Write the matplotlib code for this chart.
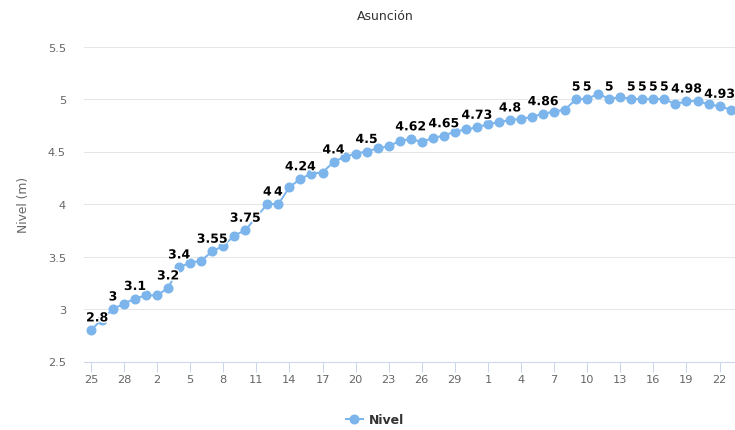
import pandas as pd
import matplotlib.pyplot as plt
import matplotlib.patheffects as pe
from matplotlib.lines import Line2D

# Nivel diario del río en Asunción (25 feb - 23 abr), falta el 11 de marzo
fechas = pd.date_range("2024-02-25", "2024-04-23").drop(pd.Timestamp("2024-03-11"))
nivel = [2.8, 2.9, 3.0, 3.05, 3.1, 3.13, 3.13, 3.2, 3.4, 3.44,
         3.46, 3.55, 3.6, 3.7, 3.75, 4.0, 4.0, 4.16, 4.24, 4.29,
         4.3, 4.4, 4.45, 4.48, 4.5, 4.53, 4.55, 4.6, 4.62, 4.59,
         4.63, 4.65, 4.69, 4.71, 4.73, 4.76, 4.78, 4.8, 4.81, 4.83,
         4.86, 4.88, 4.9, 5.0, 5.0, 5.05, 5.0, 5.02, 5.0, 5.0,
         5.0, 5.0, 4.95, 4.98, 4.98, 4.95, 4.93, 4.9]

# fechas con etiqueta visible
etiquetas = ["2024-02-25", "2024-02-27", "2024-02-29", "2024-03-03", "2024-03-04",
             "2024-03-07", "2024-03-10", "2024-03-12", "2024-03-13", "2024-03-15",
             "2024-03-18", "2024-03-21", "2024-03-25", "2024-03-28", "2024-03-31",
             "2024-04-03", "2024-04-06", "2024-04-09", "2024-04-10", "2024-04-12",
             "2024-04-14", "2024-04-15", "2024-04-16", "2024-04-17", "2024-04-19",
             "2024-04-22"]

yticks = [2.5, 3, 3.5, 4, 4.5, 5, 5.5]
xticks = pd.date_range("2024-02-25", "2024-04-22", freq="3D")

color = "#7cb5ec"
W, H = 735, 431

fig = plt.figure(figsize=(W / 100, H / 100), dpi=100)
ax = fig.add_axes([84 / W, 1 - 362.5 / H, (W - 84) / W, (362.5 - 47.5) / H])

ax.plot(fechas, nivel, color=color, lw=1.45, marker="o", ms=6.2, zorder=3)

serie = pd.Series(nivel, index=fechas)
for i, f in enumerate(etiquetas):
    v = serie[pd.Timestamp(f)]
    dx = 4.5 if i == 0 else 0  # la primera se corre para no salir del área
    t = ax.annotate(f"{v:g}", (pd.Timestamp(f), v), xytext=(dx, 4), textcoords="offset points",
                    ha="center", va="bottom", fontsize=9, fontweight="bold", color="#000000", zorder=4)
    t.set_path_effects([pe.withStroke(linewidth=2, foreground="white")])

ax.set_ylim(2.5, 5.5)
ax.set_yticks(yticks)
ax.set_yticklabels([f"{v:g}" for v in yticks])
ax.set_xlim(pd.Timestamp("2024-02-25") - pd.Timedelta(hours=15), pd.Timestamp("2024-02-25") + pd.Timedelta(days=58.4))
ax.set_xticks(xticks)
ax.set_xticklabels([str(d.day) for d in xticks])

ax.grid(axis="y", color="#e6e6e6", lw=0.75)
ax.set_axisbelow(True)
for s in ["top", "right", "left"]:
    ax.spines[s].set_visible(False)
ax.spines["bottom"].set_color("#ccd6eb")
ax.spines["bottom"].set_linewidth(0.75)
ax.tick_params(axis="y", length=0, pad=13, labelsize=8.2, labelcolor="#666666")
ax.tick_params(axis="x", length=7.2, width=0.75, color="#ccd6eb", pad=2, labelsize=8.2, labelcolor="#666666")

ax.set_ylabel("Nivel (m)", fontsize=8.8, color="#666666")
ax.yaxis.set_label_coords((30 - 84) / (W - 84), 0.5)

fig.text(385 / W, 1 - 17 / H, "Asunción", ha="center", va="center", fontsize=9, color="#333333")

h = Line2D([], [], color=color, lw=1.45, marker="o", ms=6.2)
leg = fig.legend([h], ["Nivel"], loc="center", bbox_to_anchor=(375 / W, 1 - 421 / H), frameon=False,
                 handlelength=1.4, handletextpad=0.5, prop={"size": 9, "weight": "bold"})
for txt in leg.get_texts():
    txt.set_color("#333333")

fig.savefig("out.png", dpi=100)
